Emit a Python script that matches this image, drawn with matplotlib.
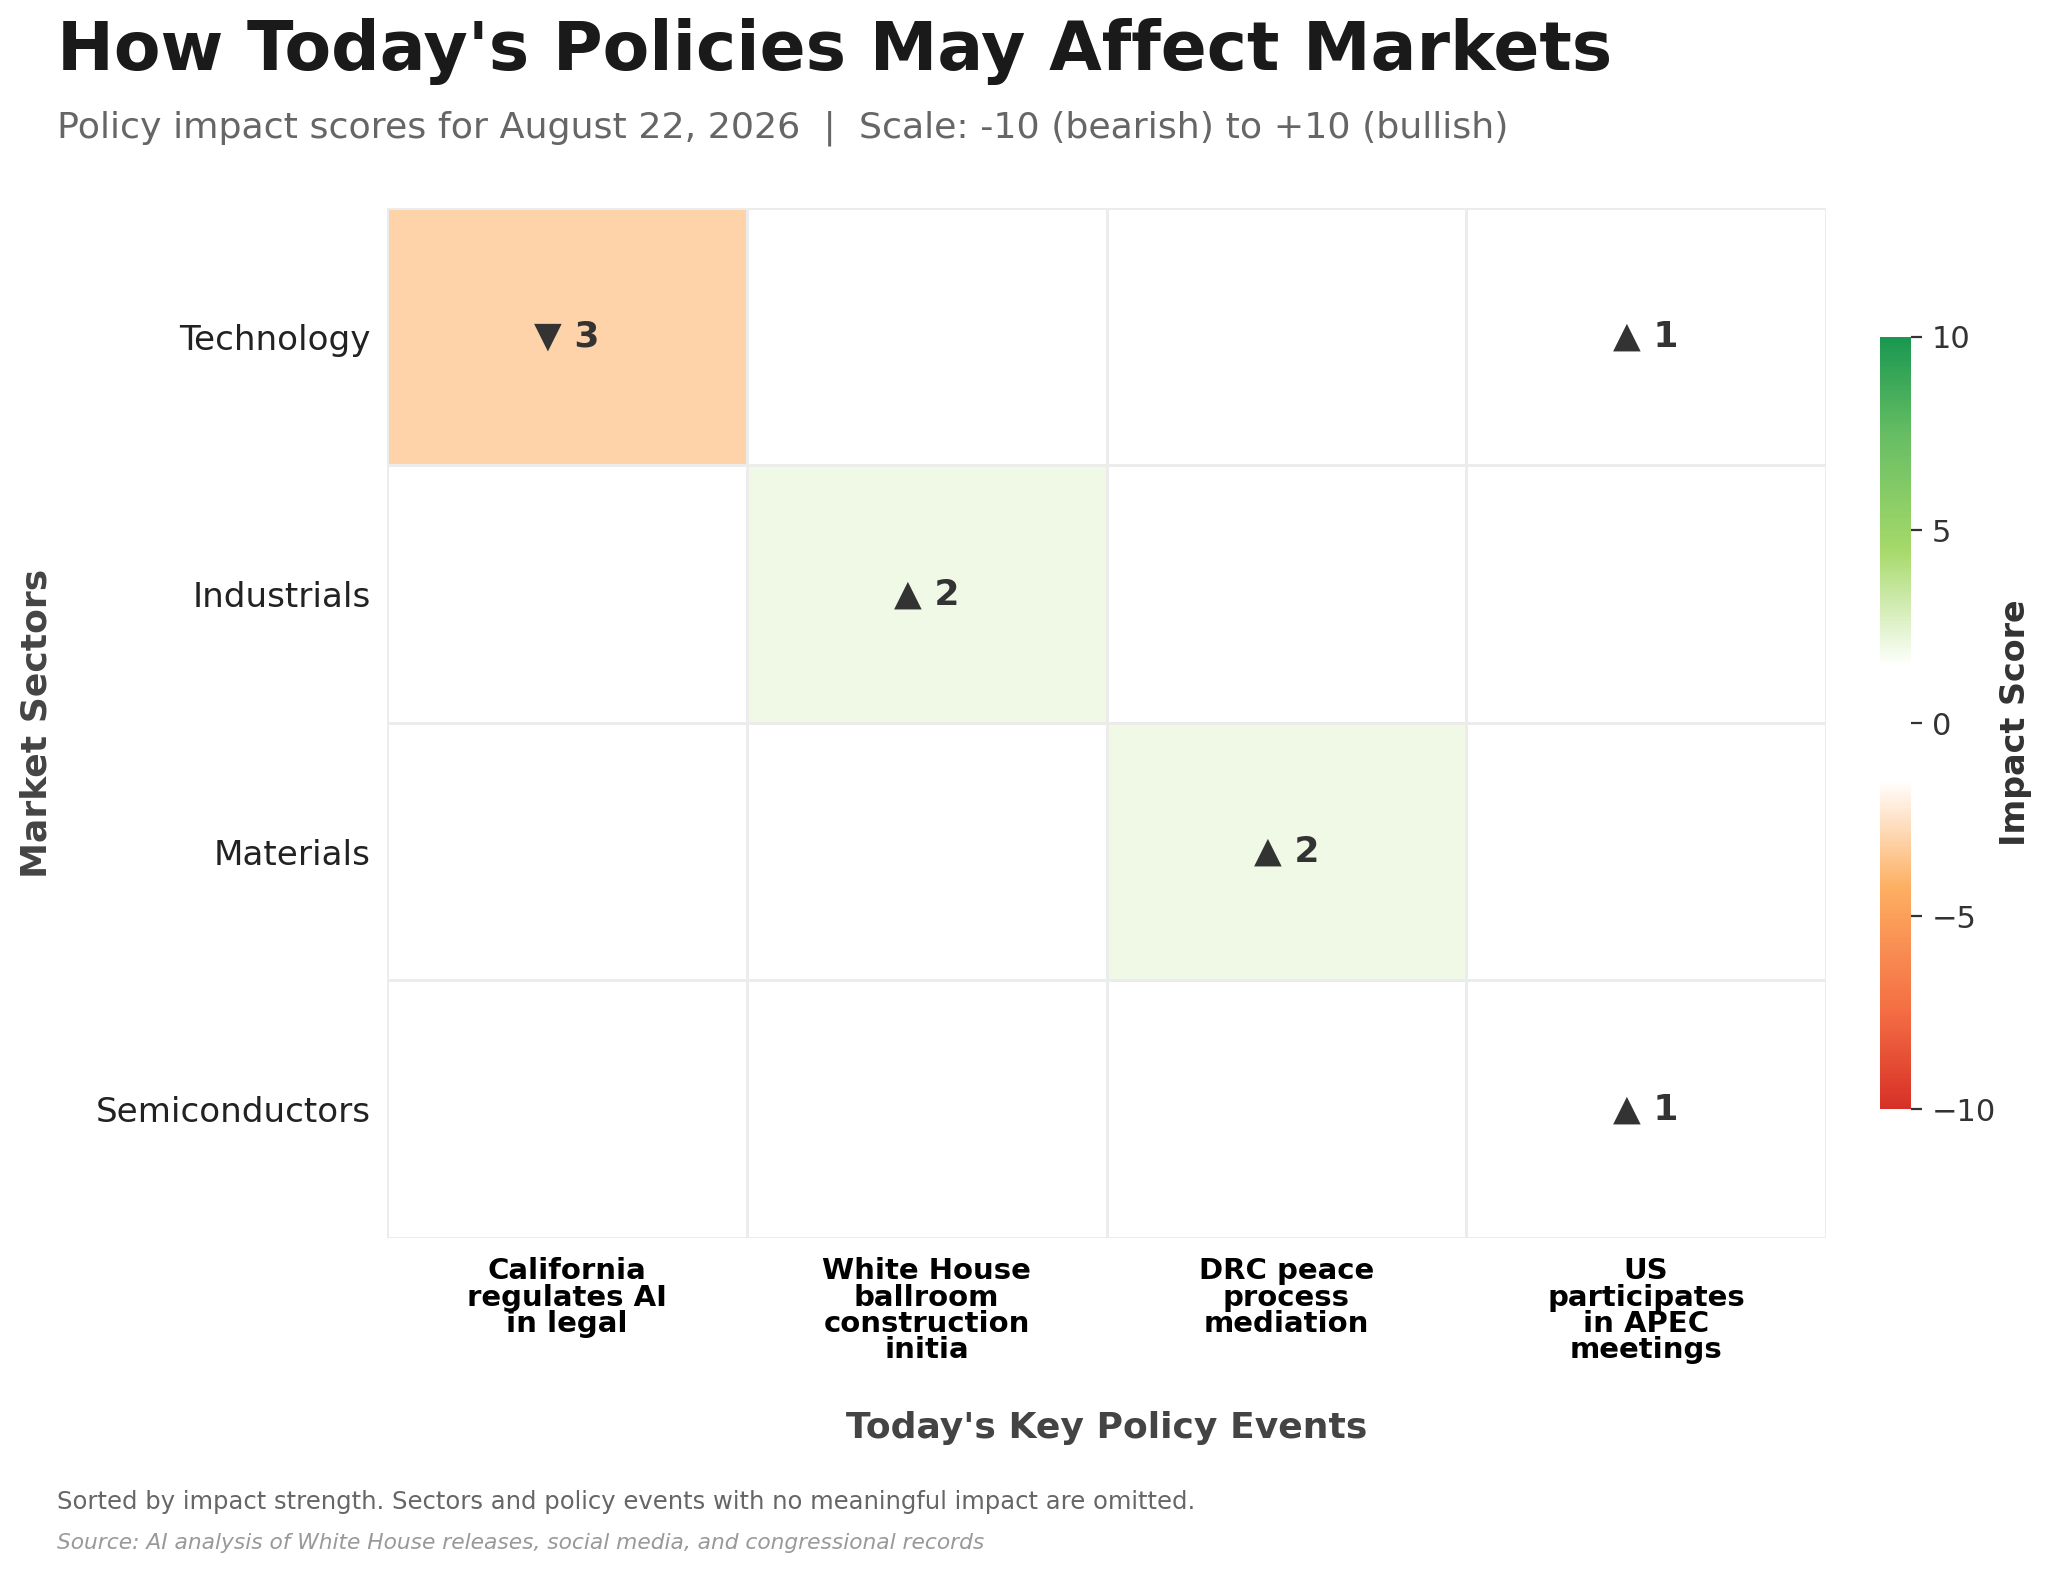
import textwrap
import numpy as np
import matplotlib
matplotlib.use("Agg")
import matplotlib.pyplot as plt
from matplotlib.colors import LinearSegmentedColormap, Normalize

# data
sectors = ["Technology", "Industrials", "Materials", "Semiconductors"]
events = [
    "California regulates AI in legal",
    "White House ballroom construction initia",
    "DRC peace process mediation",
    "US participates in APEC meetings",
]
technology = [-3, 0, 0, 1]
industrials = [0, 2, 0, 0]
materials = [0, 0, 2, 0]
semiconductors = [0, 0, 0, 1]

title = "How Today's Policies May Affect Markets"
subtitle = "Policy impact scores for August 22, 2026  |  Scale: -10 (bearish) to +10 (bullish)"
footnote = "Sorted by impact strength. Sectors and policy events with no meaningful impact are omitted."
source = "Source: AI analysis of White House releases, social media, and congressional records"

scores = np.array([technology, industrials, materials, semiconductors], dtype=float)

# diverging map, white plateau around zero
vmin, vmax = -10, 10
node_vals = [-10, -7.5, -4.3, -1.5, 1.5, 4.5, 7.5, 10]
node_cols = ["#d73027", "#f46d43", "#fdae61", "#ffffff", "#ffffff",
             "#a6d96a", "#66bd63", "#1a9850"]
nodes = [((v - vmin) / (vmax - vmin), c) for v, c in zip(node_vals, node_cols)]
cmap = LinearSegmentedColormap.from_list("impact", nodes)
norm = Normalize(vmin=vmin, vmax=vmax)

fig = plt.figure(figsize=(10.24, 7.855), dpi=200)
ax = fig.add_axes([0.189, 0.212, 0.7026, 0.6557])
cax = fig.add_axes([0.918, 0.294, 0.0151, 0.4915])

n_rows, n_cols = scores.shape
mesh = ax.pcolormesh(np.arange(n_cols + 1), np.arange(n_rows + 1), scores,
                     cmap=cmap, norm=norm, edgecolors="#ececec", linewidth=0.4)
ax.set_xlim(0, n_cols)
ax.set_ylim(n_rows, 0)

for i in range(n_rows):
    for j in range(n_cols):
        v = scores[i, j]
        if v == 0:
            continue
        arrow = "\u25b2" if v > 0 else "\u25bc"
        ax.text(j + 0.5, i + 0.5, "{} {}".format(arrow, int(abs(v))),
                ha="center", va="center", fontsize=13, fontweight="bold",
                color="#333333")

ax.set_xticks(np.arange(n_cols) + 0.5)
ax.set_xticklabels([textwrap.fill(e, 12) for e in events], fontsize=10.5,
                   fontweight="bold", color="black", linespacing=0.92)
ax.set_yticks(np.arange(n_rows) + 0.5)
ax.set_yticklabels(sectors, fontsize=12.3, color="#222222")
ax.tick_params(axis="x", length=0, pad=7)
ax.tick_params(axis="y", length=0, pad=6)
for s in ax.spines.values():
    s.set_visible(False)

ax.set_xlabel("Today's Key Policy Events", fontsize=13, fontweight="bold",
              color="#444444", labelpad=17)
ax.set_ylabel("Market Sectors", fontsize=13, fontweight="bold",
              color="#444444", labelpad=15)

cb = fig.colorbar(mesh, cax=cax)
cb.outline.set_visible(False)
cb.set_ticks([-10, -5, 0, 5, 10])
cb.ax.tick_params(labelsize=11, colors="#333333", length=4, width=0.8)
cb.set_label("Impact Score", fontsize=12, fontweight="bold", color="#333333",
             labelpad=1)

fig.text(0.028, 0.967, title, fontsize=24.5, fontweight="bold", color="#1a1a1a",
         ha="left", va="center")
fig.text(0.028, 0.9185, subtitle, fontsize=13.1, color="#666666",
         ha="left", va="center")
fig.text(0.028, 0.044, footnote, fontsize=8.75, color="#666666",
         ha="left", va="center")
fig.text(0.028, 0.018, source, fontsize=7.85, color="#999999", style="italic",
         ha="left", va="center")

fig.savefig("out.png", dpi=200)
